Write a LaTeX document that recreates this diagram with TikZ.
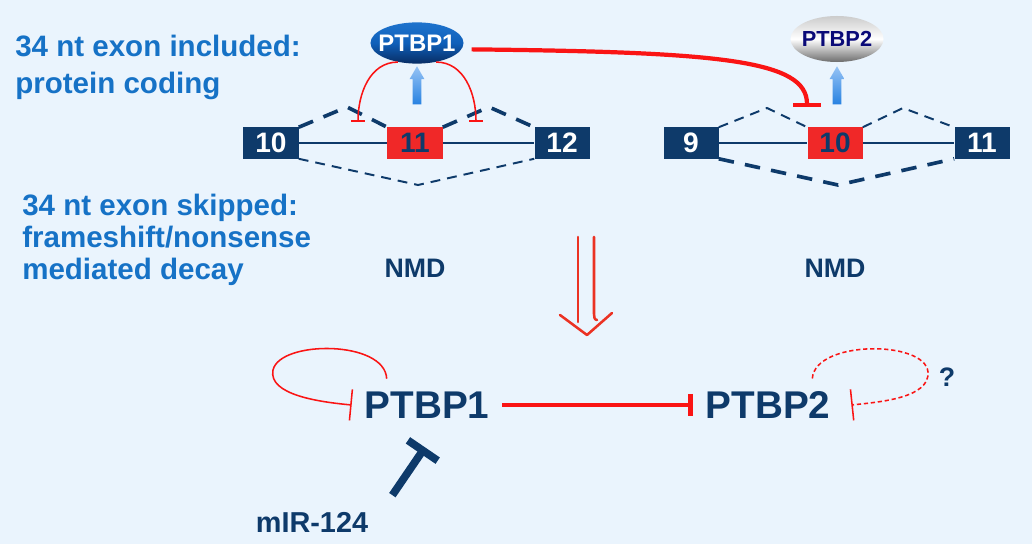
\documentclass[tikz,border=0pt]{standalone}
\usepackage{fontspec}
\setmainfont{Liberation Sans}
\usetikzlibrary{arrows.meta,shapes.geometric,shapes.arrows,calc}
\definecolor{bg}{RGB}{234,244,253}
\definecolor{navy}{RGB}{14,58,106}
\definecolor{txtblue}{RGB}{22,114,198}
\definecolor{exred}{RGB}{240,40,40}
\definecolor{inred}{RGB}{250,20,20}
\definecolor{arrred}{RGB}{235,50,35}
\definecolor{lightarr}{RGB}{150,195,245}
\definecolor{darkarr}{RGB}{40,130,225}
\definecolor{ptop}{RGB}{30,115,205}
\definecolor{pmid}{RGB}{15,95,185}
\definecolor{pbot}{RGB}{8,45,100}
\definecolor{ptext}{RGB}{10,10,120}
\tikzset{ex/.style={fill=navy, text=white, font=\bfseries\fontsize{20}{20}\selectfont, minimum width=1.375cm, minimum height=0.775cm, inner sep=0pt}}
\tikzset{exr/.style={ex, fill=exred, text=navy}}
\tikzset{intr/.style={navy, line width=1.1pt}}
\tikzset{thk/.style={navy, line width=2.6pt, dash pattern=on 11pt off 8pt}}
\tikzset{thn/.style={navy, line width=1.4pt, dash pattern=on 7pt off 5pt}}
\tikzset{up/.style={single arrow, shape border rotate=90, minimum height=0.95cm, inner sep=0.1cm, single arrow head extend=0.08cm, single arrow tip angle=60, top color=lightarr, bottom color=darkarr, draw=none}}
\tikzset{inh/.style={inred, line width=1.1pt, -{Bar[width=0.33cm]}}}
\tikzset{loopinh/.style={inred, line width=1.1pt, -{Bar[width=0.78cm]}}}
\tikzset{gn/.style={font=\bfseries\fontsize{27.5}{27.5}\selectfont, text=navy, inner sep=0pt, outer sep=0.325cm}}
\tikzset{lbl/.style={font=\bfseries\fontsize{19}{19}\selectfont, text=navy, inner sep=0pt}}
\tikzset{note/.style={inner sep=0pt, anchor=north west, align=left, text=txtblue}}
\tikzset{prot/.style={ellipse, minimum width=2.325cm, minimum height=1.03cm, inner xsep=-0.15cm, inner ysep=0.05cm}}
\tikzset{bigred/.style={arrred, line width=1.8pt, line cap=round, line join=round}}

\begin{document}
\begin{tikzpicture}[x=0.025cm, y=0.025cm]
  \fill[bg] (0,0) rectangle (1032,-544);
  % left notes
  \node[note, font=\bfseries\fontsize{21}{26}\selectfont] (inc) at (15,-35) {34 nt exon included:\\protein coding};
  \node[note, font=\bfseries\fontsize{21}{22.7}\selectfont] (skp) at (22,-194) {34 nt exon skipped:\\frameshift/nonsense\\mediated decay};
  % PTBP1 gene
  \node[ex] (a10) at (271,-143) {10};
  \node[exr] (a11) at (415,-143) {11};
  \node[ex] (a12) at (562,-143) {12};
  \draw[intr] (a10) -- (a11) (a11) -- (a12);
  \coordinate (ak1) at (347,-107);
  \coordinate (ak2) at (489,-107);
  \coordinate (ak3) at (418,-185);
  \draw[thk] (a10.north east) -- (ak1) -- (a11.north west);
  \draw[thk] (a11.north east) -- (ak2) -- (a12.north west);
  \draw[thn] (a10.south east) -- (ak3) -- (a12.south west);
  \node[prot, top color=ptop, bottom color=pbot, middle color=pmid, text=white, font=\bfseries\fontsize{17}{17}\selectfont] (p1) at (417,-43) {PTBP1};
  \node[up] (u1) at (417,-89) {};
  \coordinate (t1) at (358,-122);
  \coordinate (t2) at (476,-122);
  \draw[inh] (p1.225) to[out=180, in=90] (t1);
  \draw[inh] (p1.-45) to[out=0, in=90] (t2);
  % PTBP2 gene
  \node[ex] (b9) at (691,-143) {9};
  \node[exr] (b10) at (835,-143) {10};
  \node[ex] (b11) at (982,-143) {11};
  \draw[intr] (b9) -- (b10) (b10) -- (b11);
  \coordinate (bk1) at (767,-108);
  \coordinate (bk2) at (903,-108);
  \coordinate (bk3) at (838,-185);
  \draw[thn] (b9.north east) -- (bk1) -- (b10.north west);
  \draw[thn] (b10.north east) -- (bk2) -- (b11.north west);
  \draw[thk] (b9.south east) -- (bk3) -- (b11.south west);
  \node[prot, minimum height=1.15cm, top color=gray!40, bottom color=gray!85!black, middle color=white, text=ptext, font=\bfseries\fontsize{15.5}{15.5}\selectfont] (p2) at (837,-39) {PTBP2};
  \node[up] (u2) at (837,-89) {};
  \coordinate (t3) at (807,-107);
  \draw[inred, line width=3pt, shorten <=0.25cm, -{Bar[width=0.68cm]}] (p1.-8) .. controls (720,-52) and (807,-60) .. (t3);
  \node[lbl] (n1) at (415,-268) {NMD};
  \node[lbl] (n2) at (835,-268) {NMD};
  % down arrow
  \draw[bigred] (578,-237) -- (578,-322);
  \draw[bigred] (594,-237) -- (594,-314) to[out=-90, in=180] (597,-320);
  \draw[bigred] (560,-315) -- (587,-335) -- (612,-313);
  % network
  \node[gn] (P1) at (427,-405) {PTBP1};
  \node[gn] (P2) at (768,-405) {PTBP2};
  \draw[inred, line width=3.5pt, -{Bar[width=0.55cm]}] (P1) -- (P2);
  \draw[loopinh] ($(P1.north west)+(35,0)$) .. controls (385,-340) and (280,-340) .. (273,-370) .. controls (268,-395) and (320,-402) .. (P1.west);
  \draw[loopinh, dash pattern=on 3pt off 2pt] ($(P2.north east)+(-31,0)$) .. controls (815,-340) and (925,-340) .. (928,-372) .. controls (930,-398) and (880,-402) .. ($(P2.east)+(8,0)$);
  \node[lbl] (q) at (947,-377) {?};
  \node[lbl, font=\bfseries\fontsize{20.5}{20.5}\selectfont] (mir) at (312,-522.5) {mIR-124};
  \draw[navy, line width=5.5pt, -{Bar[width=0.9cm]}] ($(mir.north east)+(24,17)$) -- ($(P1.south)+(-2,-16)$);
\end{tikzpicture}
\end{document}
